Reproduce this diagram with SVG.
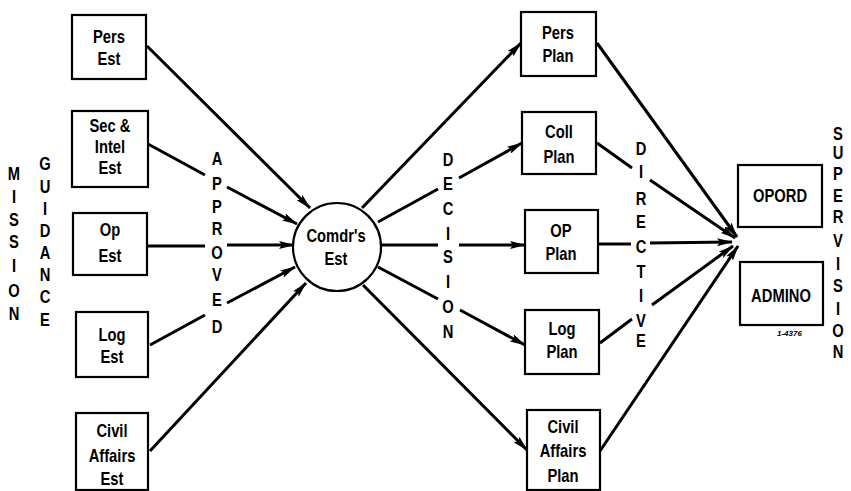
<svg xmlns="http://www.w3.org/2000/svg" width="851" height="491" viewBox="0 0 851 491">
<style>
  .box { fill: #fff; stroke: #000; stroke-width: 2.2; }
  .t, .v { font-family: "Liberation Sans", Arial, sans-serif; font-weight: bold; font-size: 18px; fill: #000; text-anchor: middle; }
  .c { fill: none; stroke: #000; stroke-width: 3; marker-end: url(#ah); }
  .tag { font-family: "Liberation Sans", sans-serif; font-style: italic; font-weight: bold; font-size: 8px; fill: #000; }
</style>
<defs>
  <marker id="ah" viewBox="0 0 16 8" refX="15" refY="4" markerWidth="16" markerHeight="8" markerUnits="userSpaceOnUse" orient="auto">
    <path d="M0,0 L16,4 L0,8 L3,4 z" fill="#000"/>
  </marker>
</defs>
<rect width="851" height="491" fill="#fff"/>

<g id="connectors">
  <path class="c" d="M147,46 L310,208"/>
  <path class="c" d="M148,144 L205,175 M227,187 L297,224"/>
  <path class="c" d="M147,246 L205,246 M227,245 L294,245"/>
  <path class="c" d="M150,345 L205,315 M227,303 L295,267"/>
  <path class="c" d="M150,451 L306,283"/>

  <path class="c" d="M362,208 L521,43"/>
  <path class="c" d="M378,222 L438,189 M459,178 L522,143"/>
  <path class="c" d="M381,245 L438,245 M459,245 L525,245"/>
  <path class="c" d="M378,267 L438,299 M460,310 L525,345"/>
  <path class="c" d="M363,285 L527,450"/>

  <path class="c" d="M597,43 L737,237"/>
  <path class="c" d="M597,143 L632,168 M650,180 L735,238"/>
  <path class="c" d="M599,244 L631,244 M650,243 L732,242"/>
  <path class="c" d="M600,343 L632,319 M652,305 L733,246"/>
  <path class="c" d="M600,451 L738,246"/>
</g>

<g id="mission">
  <text class="v" transform="translate(14,180) scale(.82,1)">M</text>
  <text class="v" transform="translate(14,203) scale(.82,1)">I</text>
  <text class="v" transform="translate(14,226) scale(.82,1)">S</text>
  <text class="v" transform="translate(14,248) scale(.82,1)">S</text>
  <text class="v" transform="translate(14,272) scale(.82,1)">I</text>
  <text class="v" transform="translate(14,297) scale(.82,1)">O</text>
  <text class="v" transform="translate(14,320) scale(.82,1)">N</text>
</g>
<g id="guidance">
  <text class="v" transform="translate(45,170) scale(.82,1)">G</text>
  <text class="v" transform="translate(45,193) scale(.82,1)">U</text>
  <text class="v" transform="translate(45,215) scale(.82,1)">I</text>
  <text class="v" transform="translate(45,237) scale(.82,1)">D</text>
  <text class="v" transform="translate(45,259) scale(.82,1)">A</text>
  <text class="v" transform="translate(45,281) scale(.82,1)">N</text>
  <text class="v" transform="translate(45,303) scale(.82,1)">C</text>
  <text class="v" transform="translate(45,326) scale(.82,1)">E</text>
</g>
<g id="approved">
  <text class="v" transform="translate(217,165) scale(.82,1)">A</text>
  <text class="v" transform="translate(217,190) scale(.82,1)">P</text>
  <text class="v" transform="translate(217,213) scale(.82,1)">P</text>
  <text class="v" transform="translate(217,235) scale(.82,1)">R</text>
  <text class="v" transform="translate(217,259) scale(.82,1)">O</text>
  <text class="v" transform="translate(217,281) scale(.82,1)">V</text>
  <text class="v" transform="translate(217,306) scale(.82,1)">E</text>
  <text class="v" transform="translate(217,333) scale(.82,1)">D</text>
</g>
<g id="decision">
  <text class="v" transform="translate(448,166) scale(.82,1)">D</text>
  <text class="v" transform="translate(448,190) scale(.82,1)">E</text>
  <text class="v" transform="translate(448,215) scale(.82,1)">C</text>
  <text class="v" transform="translate(448,240) scale(.82,1)">I</text>
  <text class="v" transform="translate(448,263) scale(.82,1)">S</text>
  <text class="v" transform="translate(448,288) scale(.82,1)">I</text>
  <text class="v" transform="translate(448,313) scale(.82,1)">O</text>
  <text class="v" transform="translate(448,338) scale(.82,1)">N</text>
</g>
<g id="directive">
  <text class="v" transform="translate(641,155) scale(.82,1)">D</text>
  <text class="v" transform="translate(641,178) scale(.82,1)">I</text>
  <text class="v" transform="translate(641,205) scale(.82,1)">R</text>
  <text class="v" transform="translate(641,228) scale(.82,1)">E</text>
  <text class="v" transform="translate(641,253) scale(.82,1)">C</text>
  <text class="v" transform="translate(641,278) scale(.82,1)">T</text>
  <text class="v" transform="translate(641,302) scale(.82,1)">I</text>
  <text class="v" transform="translate(641,327) scale(.82,1)">V</text>
  <text class="v" transform="translate(641,347) scale(.82,1)">E</text>
</g>
<g id="supervision">
  <text class="v" transform="translate(838,140) scale(.82,1)">S</text>
  <text class="v" transform="translate(838,159) scale(.82,1)">U</text>
  <text class="v" transform="translate(838,180) scale(.82,1)">P</text>
  <text class="v" transform="translate(838,202) scale(.82,1)">E</text>
  <text class="v" transform="translate(838,223) scale(.82,1)">R</text>
  <text class="v" transform="translate(838,247) scale(.82,1)">V</text>
  <text class="v" transform="translate(838,270) scale(.82,1)">I</text>
  <text class="v" transform="translate(838,292) scale(.82,1)">S</text>
  <text class="v" transform="translate(838,315) scale(.82,1)">I</text>
  <text class="v" transform="translate(838,337) scale(.82,1)">O</text>
  <text class="v" transform="translate(838,358) scale(.82,1)">N</text>
</g>

<g id="pers-est">
  <rect class="box" x="72" y="15" width="74" height="64"/>
  <text class="t" transform="translate(109,43) scale(.82,1)">Pers</text>
  <text class="t" transform="translate(109,65) scale(.82,1)">Est</text>
</g>
<g id="sec-intel-est">
  <rect class="box" x="72" y="111" width="76" height="76"/>
  <text class="t" transform="translate(110,132) scale(.82,1)">Sec &amp;</text>
  <text class="t" transform="translate(110,153) scale(.82,1)">Intel</text>
  <text class="t" transform="translate(110,174) scale(.82,1)">Est</text>
</g>
<g id="op-est">
  <rect class="box" x="73" y="213" width="74" height="62"/>
  <text class="t" transform="translate(110,236) scale(.82,1)">Op</text>
  <text class="t" transform="translate(110,262) scale(.82,1)">Est</text>
</g>
<g id="log-est">
  <rect class="box" x="76" y="312" width="72" height="65"/>
  <text class="t" transform="translate(112,341) scale(.82,1)">Log</text>
  <text class="t" transform="translate(112,363) scale(.82,1)">Est</text>
</g>
<g id="civil-affairs-est">
  <rect class="box" x="76" y="413" width="72" height="77"/>
  <text class="t" transform="translate(112,437) scale(.82,1)">Civil</text>
  <text class="t" transform="translate(112,462) scale(.82,1)">Affairs</text>
  <text class="t" transform="translate(112,485) scale(.82,1)">Est</text>
</g>

<g id="comdrs-est">
  <circle cx="337" cy="247" r="44" fill="#fff" stroke="#000" stroke-width="2.2"/>
  <text class="t" transform="translate(336,242) scale(.82,1)">Comdr's</text>
  <text class="t" transform="translate(336,265) scale(.82,1)">Est</text>
</g>

<g id="pers-plan">
  <rect class="box" x="521" y="12" width="75" height="64"/>
  <text class="t" transform="translate(558,39) scale(.82,1)">Pers</text>
  <text class="t" transform="translate(558,62) scale(.82,1)">Plan</text>
</g>
<g id="coll-plan">
  <rect class="box" x="522" y="112" width="74" height="62"/>
  <text class="t" transform="translate(559,138) scale(.82,1)">Coll</text>
  <text class="t" transform="translate(559,163) scale(.82,1)">Plan</text>
</g>
<g id="op-plan">
  <rect class="box" x="525" y="210" width="73" height="63"/>
  <text class="t" transform="translate(561,237) scale(.82,1)">OP</text>
  <text class="t" transform="translate(561,260) scale(.82,1)">Plan</text>
</g>
<g id="log-plan">
  <rect class="box" x="525" y="310" width="74" height="64"/>
  <text class="t" transform="translate(562,335) scale(.82,1)">Log</text>
  <text class="t" transform="translate(562,358) scale(.82,1)">Plan</text>
</g>
<g id="civil-affairs-plan">
  <rect class="box" x="527" y="410" width="73" height="80"/>
  <text class="t" transform="translate(563,433) scale(.82,1)">Civil</text>
  <text class="t" transform="translate(563,457) scale(.82,1)">Affairs</text>
  <text class="t" transform="translate(563,482) scale(.82,1)">Plan</text>
</g>

<g id="opord">
  <rect class="box" x="738" y="165" width="84" height="62"/>
  <text class="t" transform="translate(780,202) scale(.82,1)">OPORD</text>
</g>
<g id="admino">
  <rect class="box" x="740" y="262" width="83" height="63"/>
  <text class="t" transform="translate(781,302) scale(.82,1)">ADMINO</text>
  <text class="tag" x="777" y="336">1-4376</text>
</g>
</svg>
